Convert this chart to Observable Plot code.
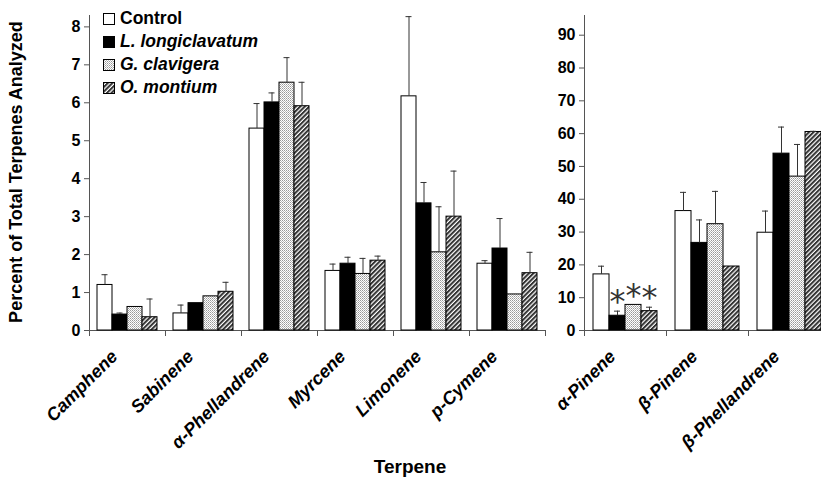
<!DOCTYPE html>
<html><head><meta charset="utf-8">
<script src="https://cdn.jsdelivr.net/npm/d3@7"></script>
<script src="https://cdn.jsdelivr.net/npm/@observablehq/plot@0.6"></script>
<style>
html,body{margin:0;padding:0;background:#fff;overflow:hidden;}
#chart{position:relative;width:821px;height:481px;overflow:hidden;font-family:Arial,"Liberation Sans",sans-serif;color:#000;}
#left{position:absolute;left:0;top:0;width:545px;}
#right{position:absolute;left:545px;top:0;width:285px;}
#chart svg{max-width:none;}
.ytitle{position:absolute;left:16px;top:172px;transform:translate(-50%,-50%) rotate(-90deg);white-space:nowrap;font-weight:bold;font-size:18px;}
.xtitle{position:absolute;left:410px;top:467px;transform:translate(-50%,-50%);white-space:nowrap;font-weight:bold;font-size:19px;}
.legend{position:absolute;left:103px;top:7px;}
.legend .item{display:flex;align-items:center;height:23px;font-weight:bold;font-size:17.5px;white-space:nowrap;}
.legend .item svg{margin-right:5px;}
.legend .it{font-style:italic;}
</style></head><body>
<svg width="0" height="0" style="position:absolute">
<defs>
<pattern id="dots" width="2" height="2" patternUnits="userSpaceOnUse">
<rect width="2" height="2" fill="#fff"/><rect width="1" height="1" fill="#999"/><rect x="1" y="1" width="1" height="1" fill="#bbb"/>
</pattern>
<pattern id="hatch" width="3.2" height="3.2" patternUnits="userSpaceOnUse" patternTransform="rotate(45)">
<rect width="3.2" height="3.2" fill="#fff"/><rect width="2" height="3.2" fill="#333"/>
</pattern>
</defs></svg>
<div id="chart">
  <div id="left"></div>
  <div id="right"></div>
  <div class="ytitle">Percent of Total Terpenes Analyzed</div>
  <div class="xtitle">Terpene</div>
  <div class="legend" id="legend"></div>
</div>
<script>
// ---- data ----
const terpenesLeft = ["Camphene", "Sabinene", "α-Phellandrene", "Myrcene", "Limonene", "p-Cymene"];
const terpenesRight = ["α-Pinene", "β-Pinene", "β-Phellandrene"];
const treatments = ["Control", "L. longiclavatum", "G. clavigera", "O. montium"];

const leftControl   = [1.20, 0.45, 5.32, 1.57, 6.17, 1.76];
const leftLongi     = [0.42, 0.72, 6.01, 1.76, 3.35, 2.16];
const leftClav      = [0.62, 0.90, 6.53, 1.49, 2.06, 0.95];
const leftMont      = [0.35, 1.02, 5.91, 1.84, 3.00, 1.51];
const leftControlSE = [0.27, 0.22, 0.66, 0.18, 2.10, 0.08];
const leftLongiSE   = [0.04, 0.00, 0.25, 0.17, 0.55, 0.79];
const leftClavSE    = [0.00, 0.00, 0.66, 0.41, 1.20, 0.00];
const leftMontSE    = [0.48, 0.25, 0.63, 0.12, 1.20, 0.55];

const rightControl   = [17.1, 36.4, 29.8];
const rightLongi     = [4.5, 26.7, 53.9];
const rightClav      = [7.8, 32.4, 46.9];
const rightMont      = [5.9, 19.5, 60.5];
const rightControlSE = [2.5, 5.7, 6.6];
const rightLongiSE   = [1.4, 7.0, 8.1];
const rightClavSE    = [0.0, 10.0, 9.8];
const rightMontSE    = [1.2, 0.0, 0.2];

const significant = [
  {terpene: "α-Pinene", treatment: "L. longiclavatum"},
  {terpene: "α-Pinene", treatment: "G. clavigera"},
  {terpene: "α-Pinene", treatment: "O. montium"}
];

const leftTicks = [0, 1, 2, 3, 4, 5, 6, 7, 8];
const rightTicks = [0, 10, 20, 30, 40, 50, 60, 70, 80, 90];

const fills = ["#ffffff", "#000000", "url(#dots)", "url(#hatch)"];

function rows(terps, means, ses) {
  const out = [];
  terps.forEach((t, i) => treatments.forEach((g, j) => out.push({terpene: t, treatment: g, value: means[j][i], se: ses[j][i]})));
  return out;
}
const leftRows = rows(terpenesLeft, [leftControl, leftLongi, leftClav, leftMont], [leftControlSE, leftLongiSE, leftClavSE, leftMontSE]);
const rightRows = rows(terpenesRight, [rightControl, rightLongi, rightClav, rightMont], [rightControlSE, rightLongiSE, rightClavSE, rightMontSE]);
const starRows = significant.map(s => {
  const r = rightRows.find(d => d.terpene === s.terpene && d.treatment === s.treatment);
  return {...r, top: r.value + r.se};
});

const FONT = 'Arial, "Liberation Sans", sans-serif';
const AXIS = "#555";

function panel({terps, data, yDomain, ticks, width, marginLeft, inset, stars}) {
  const H = 481, mt = 15, mb = 151;
  const plotH = H - mt - mb;
  return Plot.plot({
    width, height: H, marginLeft, marginRight: 0, marginTop: mt, marginBottom: mb,
    style: {fontFamily: FONT, color: "#000", background: "transparent", overflow: "visible"},
    fx: {domain: terps, padding: 0, label: null},
    x: {domain: treatments, paddingInner: 0, paddingOuter: 0.52, axis: null},
    y: {domain: yDomain},
    color: {domain: treatments, range: fills},
    marks: [
      Plot.axisY({ticks, tickSize: 5, tickPadding: 4, fontSize: 16, fontWeight: "bold", label: null, stroke: AXIS}),
      Plot.axisFx({anchor: "bottom", tickSize: 0, tickRotate: -45, tickPadding: 14, dx: -13, dy: 9, fontSize: 18, fontWeight: "bold", fontStyle: "italic", label: null}),
      Plot.frame({anchor: "left", facetAnchor: "left", stroke: AXIS}),
      Plot.frame({anchor: "left", insetTop: plotH, insetBottom: -5, stroke: AXIS}),
      Plot.frame({anchor: "right", facetAnchor: "right", insetTop: plotH, insetBottom: -5, stroke: AXIS}),
      Plot.ruleY([0], {stroke: AXIS}),
      Plot.barY(data, {fx: "terpene", x: "treatment", y: "value", fill: "treatment", stroke: "#000", strokeWidth: 1}),
      Plot.ruleX(data, {filter: d => d.se > 0, fx: "terpene", x: "treatment", y1: "value", y2: d => d.value + d.se, stroke: "#333"}),
      Plot.tickY(data, {filter: d => d.se > 0, fx: "terpene", x: "treatment", y: d => d.value + d.se, insetLeft: inset, insetRight: inset, stroke: "#333"}),
      ...(stars ? [Plot.text(stars, {fx: "terpene", x: "treatment", y: "top", text: () => "*", fontFamily: "DejaVu Sans", fontSize: 32, dy: -9, fill: "#333"})] : [])
    ]
  });
}

document.getElementById("left").append(panel({
  terps: terpenesLeft, data: leftRows, yDomain: [0, 8.3], ticks: leftTicks,
  width: 545, marginLeft: 89, inset: 4.5
}));
document.getElementById("right").append(panel({
  terps: terpenesRight, data: rightRows, yDomain: [0, 96], ticks: rightTicks,
  width: 285, marginLeft: 39, inset: 5, stars: starRows
}));

// legend
const leg = document.getElementById("legend");
treatments.forEach((t, i) => {
  const item = document.createElement("div");
  item.className = "item";
  item.innerHTML = `<svg width="12" height="12"><rect x="0.5" y="0.5" width="11" height="11" fill="${fills[i]}" stroke="#000"/></svg><span class="${i ? "it" : ""}">${t}</span>`;
  leg.append(item);
});
</script>
</body></html>
